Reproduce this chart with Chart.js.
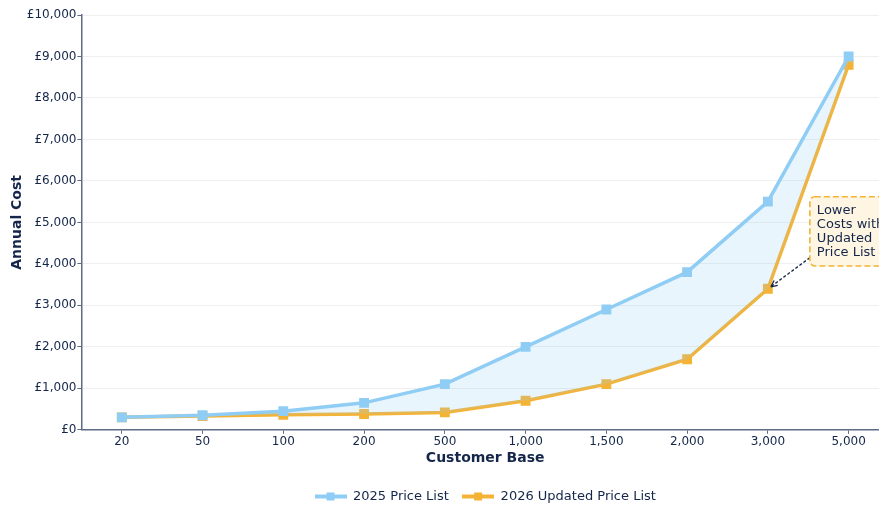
<!DOCTYPE html>
<html>
<head>
<meta charset="utf-8">
<script src="https://cdn.jsdelivr.net/npm/chart.js@4"></script>
<style>
  html, body { margin: 0; padding: 0; background: #fff; overflow: hidden; }
  #wrap { width: 897px; height: 507px; }
</style>
</head>
<body>
<div id="wrap"><canvas id="chart"></canvas></div>
<script>
// Données
const customerBase = ['20', '50', '100', '200', '500', '1,000', '1,500', '2,000', '3,000', '5,000'];
const price2025 = [300, 350, 450, 650, 1100, 2000, 2900, 3800, 5500, 9000];
const price2026 = [300, 330, 360, 380, 420, 700, 1100, 1700, 3400, 8800];
const noteLines = ['Lower', 'Costs with', 'Updated', 'Price List'];

const blue = '#90CDF4';
const orange = '#F5B335';
const navy = '#14264a';

// Icône de légende : ligne + carré
function legendIcon(color) {
  const c = document.createElement('canvas');
  c.width = 32; c.height = 10;
  const g = c.getContext('2d');
  g.strokeStyle = color; g.lineWidth = 4;
  g.beginPath(); g.moveTo(0, 5); g.lineTo(32, 5); g.stroke();
  g.fillStyle = color; g.fillRect(12, 1, 8, 8);
  return c;
}

// Annotation dessinée à la main
const notePlugin = {
  id: 'note',
  afterDatasetsDraw(chart) {
    const { ctx, scales: { x, y } } = chart;
    const left = x.getPixelForValue(8) + 42;
    const top = y.getPixelForValue(5620);
    const bottom = y.getPixelForValue(3950);
    const w = 86;
    ctx.save();
    // flèche
    const px = x.getPixelForValue(8) + 3, py = y.getPixelForValue(3400) - 2;
    const sx = left, sy = top + (bottom - top) * 0.88;
    ctx.strokeStyle = navy; ctx.lineWidth = 1.3; ctx.setLineDash([3, 2]);
    ctx.beginPath(); ctx.moveTo(sx, sy); ctx.lineTo(px, py); ctx.stroke();
    ctx.setLineDash([]);
    const a = Math.atan2(py - sy, px - sx);
    ctx.beginPath();
    ctx.moveTo(px, py);
    ctx.lineTo(px - 7 * Math.cos(a - 0.45), py - 7 * Math.sin(a - 0.45));
    ctx.moveTo(px, py);
    ctx.lineTo(px - 7 * Math.cos(a + 0.45), py - 7 * Math.sin(a + 0.45));
    ctx.stroke();
    // boîte
    ctx.fillStyle = '#FEF5E3';
    ctx.strokeStyle = orange; ctx.lineWidth = 1.6; ctx.setLineDash([6, 3]);
    ctx.beginPath(); ctx.roundRect(left, top, w, bottom - top, 5); ctx.fill(); ctx.stroke();
    ctx.setLineDash([]);
    ctx.fillStyle = navy;
    ctx.font = '13px "DejaVu Sans"';
    ctx.textBaseline = 'middle';
    noteLines.forEach((t, i) => ctx.fillText(t, left + 7, top + 14 + i * 14));
    ctx.restore();
  }
};

new Chart(document.getElementById('chart'), {
  type: 'line',
  data: {
    labels: customerBase,
    datasets: [{
      label: '2025 Price List',
      data: price2025,
      borderColor: blue,
      backgroundColor: 'rgba(144, 205, 244, 0.2)',
      fill: '+1',
      borderWidth: 3.5,
      pointStyle: 'rect',
      pointRadius: 4.5,
      pointBackgroundColor: blue,
      pointBorderColor: blue,
      tension: 0
    }, {
      label: '2026 Updated Price List',
      data: price2026,
      borderColor: orange,
      backgroundColor: orange,
      fill: false,
      borderWidth: 3.5,
      pointStyle: 'rect',
      pointRadius: 4.5,
      pointBackgroundColor: orange,
      pointBorderColor: orange,
      tension: 0
    }]
  },
  options: {
    responsive: true,
    maintainAspectRatio: false,
    animation: false,
    layout: { padding: { top: 15, right: 8, left: 9, bottom: -6 } },
    font: { family: 'DejaVu Sans' },
    scales: {
      x: {
        offset: true,
        grid: { display: true, drawOnChartArea: false, tickLength: 4, color: '#5d6b85' },
        border: { color: '#5d6b85', width: 1.5 },
        ticks: { color: navy, font: { family: 'DejaVu Sans', size: 12 }, padding: 1 },
        title: { display: true, text: 'Customer Base', color: navy, font: { family: 'DejaVu Sans', size: 14, weight: 'bold' }, padding: { top: 0, bottom: 18 } }
      },
      y: {
        min: 0, max: 10000,
        grid: { color: '#efefef', tickLength: 4, tickColor: '#5d6b85' },
        border: { color: '#5d6b85', width: 1.5 },
        ticks: {
          stepSize: 1000, color: navy, padding: 1,
          font: { family: 'DejaVu Sans', size: 12 },
          callback: v => '£' + v.toLocaleString('en-GB')
        },
        title: { display: true, text: 'Annual Cost', color: navy, font: { family: 'DejaVu Sans', size: 14, weight: 'bold' }, padding: { top: 0, bottom: 0 } }
      }
    },
    plugins: {
      legend: {
        position: 'bottom',
        fullSize: false,
        labels: {
          color: navy,
          font: { family: 'DejaVu Sans', size: 13 },
          usePointStyle: true,
          pointStyleWidth: 32,
          padding: 5,
          generateLabels(chart) {
            const n = chart.data.datasets.length;
            return chart.data.datasets.map((d, i) => ({
              // espaces pour écarter les entrées
              text: i < n - 1 ? d.label + '  ' : d.label,
              pointStyle: legendIcon(d.borderColor),
              fillStyle: d.borderColor,
              strokeStyle: d.borderColor,
              fontColor: navy,
              lineWidth: 0,
              hidden: false,
              datasetIndex: i
            }));
          }
        }
      },
      tooltip: { enabled: false }
    }
  },
  plugins: [notePlugin]
});
</script>
</body>
</html>
